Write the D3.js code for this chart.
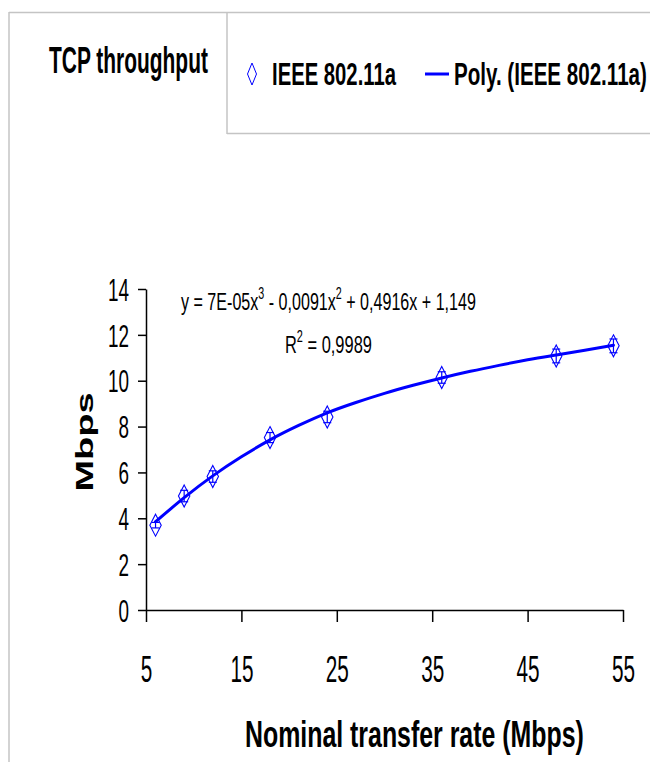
<!DOCTYPE html>
<html>
<head>
<meta charset="utf-8">
<script src="https://cdn.jsdelivr.net/npm/d3@7"></script>
<style>
  html, body { margin: 0; padding: 0; background: #fff; }
  svg { display: block; font-family: "Liberation Sans", Arial, sans-serif; }
</style>
</head>
<body>
<svg id="chart" width="650" height="762"></svg>
<script>
// ---- data ----
const rates = [6, 9, 12, 18, 24, 36, 48, 54];                 // nominal transfer rate (Mbps)
const throughput = [3.7, 4.97, 5.82, 7.52, 8.42, 10.14, 11.08, 11.52]; // TCP throughput (Mbps)
const errors = [0.12, 0.25, 0.25, 0.22, 0.25, 0.25, 0.3, 0.3];
const trendX = [6, 9, 12, 15, 18, 21, 24, 27, 30, 33, 36, 39, 42, 45, 48, 51, 54];
const trendY = [3.85, 4.9, 5.85, 6.68, 7.42, 8.05, 8.6, 9.05, 9.45, 9.8, 10.12, 10.41, 10.67, 10.91, 11.12, 11.33, 11.55];
const xTicks = [5, 15, 25, 35, 45, 55];
const yTicks = [0, 2, 4, 6, 8, 10, 12, 14];
const titleText = "TCP throughput";
const seriesName = "IEEE 802.11a";
const trendName = "Poly. (IEEE 802.11a)";
const xTitle = "Nominal transfer rate (Mbps)";
const yTitle = "Mbps";

const svg = d3.select("#chart");
const blue = "#0000ff";
const grey = "#c4c4c4";

// helper: horizontally squeeze text to a target width
function placeText(parent, str, x, y, opts) {
  const g = parent.append("g").attr("transform", `translate(${x},${y})`);
  const t = g.append("text")
    .attr("font-size", opts.size)
    .attr("font-weight", opts.weight || "normal")
    .attr("text-anchor", opts.anchor || "start")
    .attr("fill", "#000");
  if (typeof str === "string") t.text(str); else str(t);
  const L = t.node().getComputedTextLength();
  const sx = opts.width / L;
  t.attr("transform", `scale(${sx},1)`);
  return t;
}

// frame lines
svg.append("line").attr("x1", 9).attr("x2", 650).attr("y1", 12.5).attr("y2", 12.5).attr("stroke", grey).attr("stroke-width", 1.5);
svg.append("line").attr("x1", 9).attr("x2", 9).attr("y1", 12).attr("y2", 762).attr("stroke", grey).attr("stroke-width", 1.5);
svg.append("line").attr("x1", 227).attr("x2", 227).attr("y1", 12).attr("y2", 134).attr("stroke", grey).attr("stroke-width", 1.5);
svg.append("line").attr("x1", 227).attr("x2", 650).attr("y1", 133.5).attr("y2", 133.5).attr("stroke", grey).attr("stroke-width", 1.5);

// title
placeText(svg, titleText, 49, 73, { size: 36, weight: "bold", width: 159 });

// legend
const diamond = (cx, cy, hw, hh) => `M${cx},${cy - hh}L${cx + hw},${cy}L${cx},${cy + hh}L${cx - hw},${cy}Z`;
svg.append("path").attr("d", diamond(252, 74, 4.5, 11)).attr("fill", "none").attr("stroke", blue).attr("stroke-width", 1);
placeText(svg, seriesName, 272, 85, { size: 31, weight: "bold", width: 124 });
svg.append("line").attr("x1", 425).attr("x2", 449).attr("y1", 74).attr("y2", 74).attr("stroke", blue).attr("stroke-width", 3);
placeText(svg, trendName, 454, 85, { size: 31, weight: "bold", width: 193 });

// scales
const x = d3.scaleLinear().domain([5, 55]).range([146, 623]);
const y = d3.scaleLinear().domain([0, 14]).range([610, 289]);

// axes
const yAxis = svg.append("g").attr("transform", `translate(${x(5)},0)`)
  .call(d3.axisLeft(y).tickValues(yTicks).tickSize(8).tickSizeOuter(0));
yAxis.select(".domain").attr("stroke", "#000").attr("stroke-width", 1.5);
yAxis.selectAll(".tick line").attr("stroke", "#000").attr("stroke-width", 1.5);
yAxis.selectAll(".tick text")
  .attr("x", null).attr("dy", "0.35em")
  .attr("font-size", 32).attr("font-family", "Liberation Sans, Arial, sans-serif")
  .attr("fill", "#000")
  .attr("transform", "translate(-17,0) scale(0.59,1)");

const xAxis = svg.append("g").attr("transform", `translate(0,${y(0)})`)
  .call(d3.axisBottom(x).tickValues(xTicks).tickSize(12).tickSizeOuter(0));
xAxis.select(".domain").attr("stroke", "#000").attr("stroke-width", 1.5);
xAxis.selectAll(".tick line").attr("stroke", "#000").attr("stroke-width", 1.5);
xAxis.selectAll(".tick text")
  .attr("y", null).attr("dy", null)
  .attr("font-size", 37).attr("font-family", "Liberation Sans, Arial, sans-serif")
  .attr("fill", "#000")
  .attr("transform", "translate(0,72) scale(0.56,1)");

// axis titles
placeText(svg, xTitle, 245, 747, { size: 37, weight: "bold", width: 339 });
{
  const g = svg.append("g").attr("transform", `translate(93,442)`);
  g.append("text").text(yTitle)
    .attr("font-size", 38).attr("font-weight", "bold").attr("text-anchor", "middle")
    .attr("transform", "scale(0.62,1) rotate(-90)");
}

// trend line
const line = d3.line().x(d => x(d[0])).y(d => y(d[1])).curve(d3.curveNatural);
svg.append("path").datum(trendX.map((v, i) => [v, trendY[i]]))
  .attr("d", line).attr("fill", "none").attr("stroke", blue).attr("stroke-width", 3).attr("stroke-linecap", "round");

// error bars and markers
const pts = rates.map((r, i) => ({ r, v: throughput[i], e: errors[i] }));
const eb = svg.append("g").attr("stroke", blue).attr("stroke-width", 1.2);
pts.forEach(p => {
  const cx = x(p.r);
  eb.append("line").attr("x1", cx).attr("x2", cx).attr("y1", y(p.v - p.e)).attr("y2", y(p.v + p.e));
  eb.append("line").attr("x1", cx - 4).attr("x2", cx + 4).attr("y1", y(p.v - p.e)).attr("y2", y(p.v - p.e));
  eb.append("line").attr("x1", cx - 4).attr("x2", cx + 4).attr("y1", y(p.v + p.e)).attr("y2", y(p.v + p.e));
});
svg.append("g").selectAll("path").data(pts).join("path")
  .attr("d", p => diamond(x(p.r), y(p.v), 5.7, 11))
  .attr("fill", "none").attr("stroke", blue).attr("stroke-width", 1.1);

// equation & R²
placeText(svg, t => {
  t.append("tspan").text("y = 7E-05x");
  t.append("tspan").attr("font-size", 16).attr("dy", -11).text("3");
  t.append("tspan").attr("dy", 11).text(" - 0,0091x");
  t.append("tspan").attr("font-size", 16).attr("dy", -11).text("2");
  t.append("tspan").attr("dy", 11).text(" + 0,4916x + 1,149");
}, 181, 310, { size: 24, width: 295 });
placeText(svg, t => {
  t.append("tspan").text("R");
  t.append("tspan").attr("font-size", 16).attr("dy", -11).text("2");
  t.append("tspan").attr("dy", 11).text(" = 0,9989");
}, 285, 353, { size: 24, width: 87 });
</script>
</body>
</html>
